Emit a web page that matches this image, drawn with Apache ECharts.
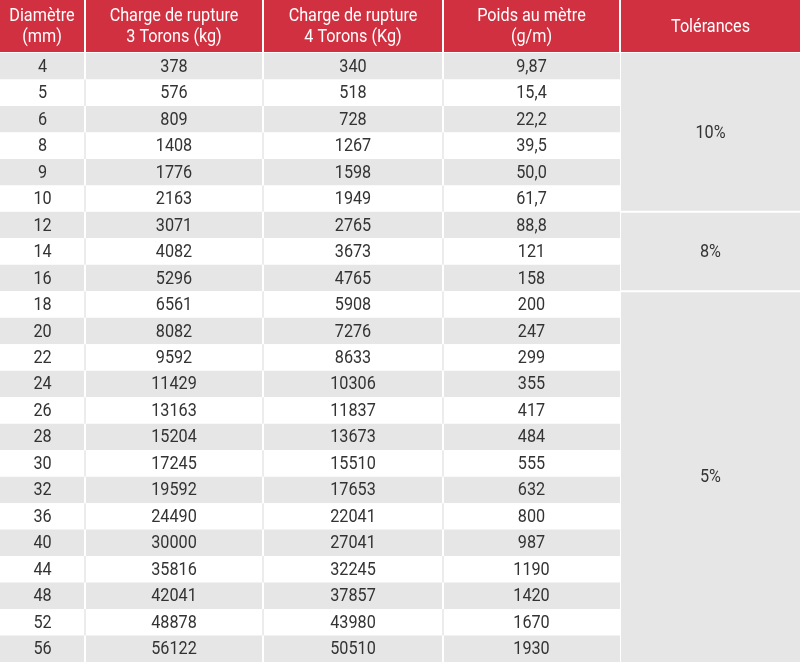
<!DOCTYPE html>
<html><head><meta charset="utf-8">
<script src="https://cdn.jsdelivr.net/npm/echarts@6/dist/echarts.min.js"></script>
<style>html,body{margin:0;padding:0;background:#fff}#c{width:800px;height:662px}</style>
</head><body><div id="c"></div>
<script>
// ---- data ----
const headers = ['Diamètre\n(mm)', 'Charge de rupture\n3 Torons (kg)', 'Charge de rupture\n4 Torons (Kg)', 'Poids au mètre\n(g/m)', 'Tolérances'];
const diametres = ['4','5','6','8','9','10','12','14','16','18','20','22','24','26','28','30','32','36','40','44','48','52','56'];
const charge3 = ['378','576','809','1408','1776','2163','3071','4082','5296','6561','8082','9592','11429','13163','15204','17245','19592','24490','30000','35816','42041','48878','56122'];
const charge4 = ['340','518','728','1267','1598','1949','2765','3673','4765','5908','7276','8633','10306','11837','13673','15510','17653','22041','27041','32245','37857','43980','50510'];
const poids = ['9,87','15,4','22,2','39,5','50,0','61,7','88,8','121','158','200','247','299','355','417','484','555','632','800','987','1190','1420','1670','1930'];
const toleranceLabels = ['10%', '8%', '5%'];
const toleranceRowCounts = [6, 3, 14];

// ---- layout (not data) ----
const colEdges = [0, 85, 263, 443, 620, 800];
const RED = '#d0303f', GRAY = '#e6e6e6', TEXT = '#333333';
const FONT = 'Roboto, "Noto Sans", sans-serif';
const FS = 18, SX = 0.9;

const chart = echarts.init(document.getElementById('c'), null, {renderer: 'canvas'});

const bodyRows = diametres.map((d, i) => [0, i]);
const tolData = [];
let start = 0;
toleranceLabels.forEach((l, i) => { tolData.push([0, start, start + toleranceRowCounts[i] - 1, i]); start += toleranceRowCounts[i]; });

function xPix(api, v) { return api.coord([v, 0])[0]; }
function label(x, y, text, fill) {
  return {type: 'text', x: x, y: y, scaleX: SX, style: {x: 0, y: 0, text: text, align: 'center', verticalAlign: 'middle', fill: fill, font: FS + 'px ' + FONT, lineHeight: 21}};
}

const option = {
  backgroundColor: '#ffffff',
  animation: false,
  grid: [
    {left: 0, right: 0, top: 0, height: 52},
    {left: 0, right: 0, top: 53, bottom: 0}
  ],
  xAxis: [
    {type: 'value', gridIndex: 0, min: 0, max: 800, show: false},
    {type: 'value', gridIndex: 1, min: 0, max: 800, show: false}
  ],
  yAxis: [
    {type: 'category', gridIndex: 0, data: ['header'], show: false},
    {type: 'category', gridIndex: 1, data: diametres, inverse: true, show: false}
  ],
  series: [
    {
      type: 'custom', xAxisIndex: 0, yAxisIndex: 0, data: [[0, 0]],
      renderItem: function (params, api) {
        const c = api.coord([0, 0]);
        const h = api.size([0, 1])[1];
        const y0 = c[1] - h / 2;
        const children = [];
        for (let i = 0; i < headers.length; i++) {
          const xa = xPix(api, colEdges[i]) + (i === 0 ? 0 : 1);
          const xb = xPix(api, colEdges[i + 1]) - (i === headers.length - 1 ? 0 : 1);
          children.push({type: 'rect', shape: {x: xa, y: y0, width: xb - xa, height: h}, style: {fill: RED}});
          children.push(label((xa + xb) / 2, y0 + h / 2 + 1, headers[i], '#ffffff'));
        }
        return {type: 'group', children: children};
      }
    },
    {
      type: 'custom', xAxisIndex: 1, yAxisIndex: 1, data: bodyRows,
      renderItem: function (params, api) {
        const r = api.value(1);
        const c = api.coord([0, r]);
        const h = api.size([0, 1])[1];
        const y0 = c[1] - h / 2;
        const xL = xPix(api, colEdges[0]);
        const xR = xPix(api, colEdges[4]);
        const gray = r % 2 === 0;
        const children = [
          {type: 'rect', shape: {x: xL, y: y0, width: xR - xL, height: h}, style: {fill: gray ? GRAY : '#ffffff'}}
        ];
        for (let k = 1; k < 4; k++) {
          const xs = xPix(api, colEdges[k]);
          children.push({type: 'rect', shape: {x: xs - 1, y: y0, width: 2, height: h}, style: {fill: gray ? '#ffffff' : '#ececec'}});
        }
        const vals = [diametres[r], charge3[r], charge4[r], poids[r]];
        for (let k = 0; k < 4; k++) {
          const xm = (xPix(api, colEdges[k]) + xPix(api, colEdges[k + 1])) / 2;
          children.push(label(xm, c[1] + 1, vals[k], TEXT));
        }
        return {type: 'group', children: children};
      }
    },
    {
      type: 'custom', xAxisIndex: 1, yAxisIndex: 1, data: tolData,
      renderItem: function (params, api) {
        const s = api.value(1), e = api.value(2), idx = api.value(3);
        const h = api.size([0, 1])[1];
        const ys = api.coord([0, s])[1] - h / 2;
        const ye = api.coord([0, e])[1] + h / 2;
        const xa = xPix(api, colEdges[4]) + 1;
        const xb = xPix(api, colEdges[5]);
        const top = ys + (s === 0 ? 0 : 1);
        const bot = ye - (e === diametres.length - 1 ? 0 : 1);
        return {type: 'group', children: [
          {type: 'rect', shape: {x: xa, y: top, width: xb - xa, height: bot - top}, style: {fill: GRAY}},
          label((xa + xb) / 2, (ys + ye) / 2 + 1, toleranceLabels[idx], TEXT)
        ]};
      }
    }
  ]
};
chart.setOption(option);
</script>
</body></html>
